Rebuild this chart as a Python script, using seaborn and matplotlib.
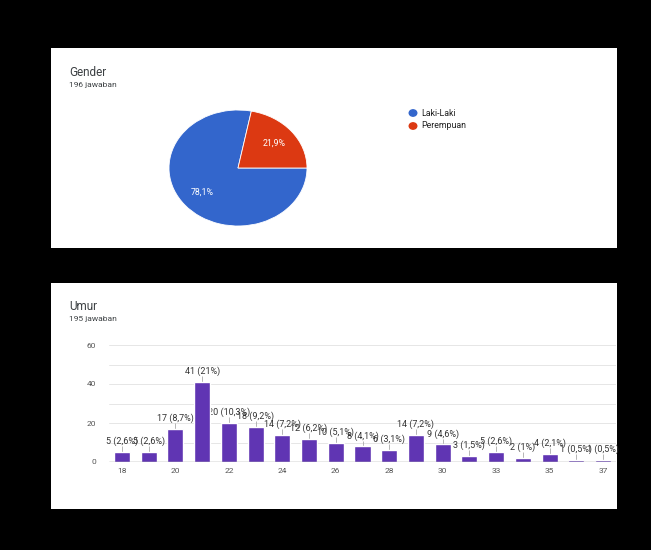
import matplotlib
matplotlib.use("Agg")
import matplotlib.pyplot as plt
import seaborn as sns
import pandas as pd
import numpy as np

# data
gender_labels = ["Laki-Laki", "Perempuan"]
gender_pct = [78.1, 21.9]
gender_pct_text = ["78,1%", "21,9%"]
gender_colors = ["#3366cc", "#dc3912"]

umur = ["18", "19", "20", "21", "22", "23", "24", "25", "26", "27",
        "28", "29", "30", "31", "33", "34", "35", "36", "37"]
jumlah = [5, 5, 17, 41, 20, 18, 14, 12, 10, 8, 6, 14, 9, 3, 5, 2, 4, 1, 1]
persen = ["2,6%", "2,6%", "8,7%", "21%", "10,3%", "9,2%", "7,2%", "6,2%", "5,1%", "4,1%",
          "3,1%", "7,2%", "4,6%", "1,5%", "2,6%", "1%", "2,1%", "0,5%", "0,5%"]

sns.set_style("white")
plt.rcParams["font.family"] = ["Roboto", "DejaVu Sans"]

W, H = 651, 550
fig = plt.figure(figsize=(W / 100, H / 100), dpi=100, facecolor="black")


def box(x0, y0, x1, y1):
    # pixel box (top-left origin) -> figure fraction rect
    return [x0 / W, 1 - y1 / H, (x1 - x0) / W, (y1 - y0) / H]


# white card panels
for rect in (box(51, 48, 617, 248), box(51, 283, 617, 509)):
    p = fig.add_axes(rect)
    p.set_facecolor("white")
    p.set_xticks([])
    p.set_yticks([])
    for s in p.spines.values():
        s.set_visible(False)

# ---- Gender pie ----
fig.text(69 / W, 1 - 72 / H, "Gender", fontsize=8.5, color="#3c4043", va="center")
fig.text(69 / W, 1 - 85 / H, "196 jawaban", fontsize=6, color="#3c4043", va="center")

ax1 = fig.add_axes(box(169, 110, 307, 226))
wedges, _ = ax1.pie(gender_pct, colors=gender_colors, startangle=78.84,
                    counterclock=True, wedgeprops=dict(edgecolor="white", linewidth=0.6))
ax1.set_aspect("auto")
ax1.set_xlim(-1, 1)
ax1.set_ylim(-1, 1)
for w, t in zip(wedges, gender_pct_text):
    ang = np.deg2rad((w.theta1 + w.theta2) / 2)
    ax1.text(0.67 * np.cos(ang), 0.67 * np.sin(ang), t, color="white",
             fontsize=6.3, ha="center", va="center")

for i, (lab, c) in enumerate(zip(gender_labels, gender_colors)):
    y = 1 - (113 + 13 * i) / H
    fig.patches.append(plt.Circle((413 / W, y), 0.0058, color=c,
                                  transform=fig.transFigure, figure=fig))
    fig.text(421 / W, y, lab, fontsize=6.3, color="#222222", va="center")

# ---- Umur bar chart ----
fig.text(69 / W, 1 - 306 / H, "Umur", fontsize=8.5, color="#3c4043", va="center")
fig.text(69 / W, 1 - 319 / H, "195 jawaban", fontsize=6, color="#3c4043", va="center")

df = pd.DataFrame({"umur": umur, "jumlah": jumlah})
ax2 = fig.add_axes(box(108.6, 345, 616.4, 462))
ax2.set_facecolor("none")
sns.barplot(data=df, x="umur", y="jumlah", color="#6035b3", width=0.6,
            saturation=1, ax=ax2, zorder=3)
ax2.set_ylim(0, 60)
ax2.set_xlim(-0.5, len(umur) - 0.5)
ax2.set_yticks([0, 20, 40, 60])
ax2.set_yticks([10, 30, 50], minor=True)
ax2.grid(axis="y", which="both", color="#e6e6e6", lw=0.7, zorder=0)
ax2.axhline(0, color="#555555", lw=0.9, zorder=4)
ax2.set_xticks(range(0, len(umur), 2))
ax2.set_xticklabels(umur[0::2])
ax2.tick_params(axis="both", which="both", length=0, labelsize=6,
                labelcolor="#555555")
ax2.tick_params(axis="y", pad=9)
ax2.tick_params(axis="x", pad=4)
ax2.set_xlabel("")
ax2.set_ylabel("")
for s in ax2.spines.values():
    s.set_visible(False)

for i, (v, p) in enumerate(zip(jumlah, persen)):
    ax2.vlines(i, v, v + 3, color="#aaaaaa", lw=0.6, zorder=2)
    ax2.text(i, v + 3.0, f"{v} ({p})", ha="center", va="bottom",
             fontsize=6.5, color="#333333", zorder=2)

fig.savefig("out.png", dpi=100, facecolor="black")
